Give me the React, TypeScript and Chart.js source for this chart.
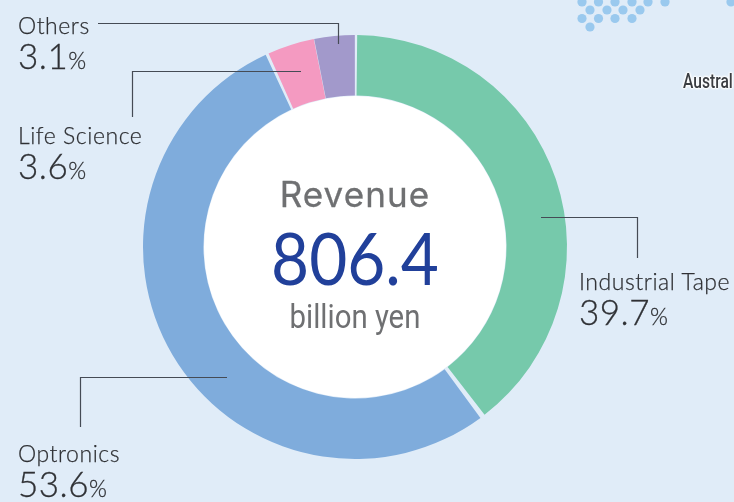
import React, { useEffect, useRef } from "react";
import { Chart, registerables } from "chart.js";

Chart.register(...registerables);

const categories = ["Industrial Tape", "Optronics", "Life Science", "Others"];
const shares = [39.7, 53.6, 3.6, 3.1];
const colors = ["#76C9AB", "#7FACDC", "#F49AC1", "#A299CB"];
const centerTitle = "Revenue";
const centerValue = "806.4";
const centerUnit = "billion yen";
const edgeLabel = "Austral";

const labelPositions = [
  { x: 579, y: 270 },
  { x: 18, y: 442 },
  { x: 18, y: 124 },
  { x: 18, y: 14 },
];

const leaders = [
  [[541, 217.5], [637.5, 217.5], [637.5, 258]],
  [[227, 377.5], [80.5, 377.5], [80.5, 427]],
  [[301, 71.5], [132.5, 71.5], [132.5, 117]],
  [[98, 23.5], [338.5, 23.5], [338.5, 44]],
];

const dots = [
  [582, 2], [598.5, 2], [615, 2], [632, 2], [648, 2], [665, 2], [731, 2],
  [590, 10], [607, 10], [623, 10], [640, 10],
  [582, 18.5], [598.5, 18.5], [615, 18.5], [632, 18.5],
  [590, 27],
];

const decorPlugin = {
  id: "decor",
  beforeDraw(chart: any) {
    const c = chart.ctx;
    c.save();
    c.fillStyle = "#9AC9EE";
    dots.forEach(([x, y]) => {
      c.beginPath();
      c.arc(x, y, 4.6, 0, Math.PI * 2);
      c.fill();
    });
    c.fillStyle = "#ffffff";
    c.beginPath();
    c.arc(355, 247, 151, 0, Math.PI * 2);
    c.fill();
    c.restore();
  },
  afterDraw(chart: any) {
    const c = chart.ctx;
    c.save();
    c.strokeStyle = "#454B55";
    c.lineWidth = 1.2;
    leaders.forEach((pts) => {
      c.beginPath();
      pts.forEach(([x, y], i) => (i ? c.lineTo(x, y) : c.moveTo(x, y)));
      c.stroke();
    });
    c.restore();
  },
};

export default function App() {
  const ref = useRef<HTMLCanvasElement>(null);
  useEffect(() => {
    const chart = new Chart(ref.current!, {
      type: "doughnut",
      data: {
        labels: categories,
        datasets: [
          {
            data: shares,
            backgroundColor: colors,
            borderWidth: 0,
            spacing: 3,
          },
        ],
      },
      options: {
        responsive: false,
        animation: false,
        cutout: 150,
        layout: { padding: { left: 143, right: 167, top: 35, bottom: 43 } },
        plugins: { legend: { display: false }, tooltip: { enabled: false } },
      },
      plugins: [decorPlugin],
    } as any);
    return () => chart.destroy();
  }, []);

  const base: React.CSSProperties = { position: "absolute", whiteSpace: "nowrap", lineHeight: 1 };
  return (
    <div style={{ position: "fixed", left: 0, top: 0, width: 734, height: 502, overflow: "hidden", background: "#E0ECF8" }}>
      <canvas ref={ref} width={734} height={502} style={{ position: "absolute", left: 0, top: 0 }} />
      {categories.map((name, i) => (
        <div key={name} style={{ ...base, left: labelPositions[i].x, top: labelPositions[i].y, fontFamily: "Lato", color: "#2f3135" }}>
          <div style={{ fontSize: 23, fontWeight: 300, letterSpacing: 0.55, WebkitTextStroke: "0.25px #2f3135" }}>{name}</div>
          <div style={{ fontSize: 35, fontWeight: 300, marginTop: 1, letterSpacing: 0.5, WebkitTextStroke: "0.3px #2f3135" }}>
            {shares[i].toFixed(1)}
            <span style={{ fontSize: 23 }}>%</span>
          </div>
        </div>
      ))}
      <div style={{ ...base, left: 255, width: 200, textAlign: "center", top: 177, fontFamily: "Inter", fontWeight: 400, fontSize: 35, color: "#6f7072", letterSpacing: 1.1, WebkitTextStroke: "0.3px #6f7072" }}>{centerTitle}</div>
      <div style={{ ...base, left: 255, width: 200, textAlign: "center", top: 222, fontFamily: "Lato", fontSize: 71, color: "#21409A", transform: "scaleX(0.925)" }}>{centerValue}</div>
      <div style={{ ...base, left: 255, width: 200, textAlign: "center", top: 300, fontFamily: "Roboto", fontWeight: 400, fontSize: 33, color: "#6f7072", transform: "scaleX(0.89)" }}>{centerUnit}</div>
      <div style={{ ...base, left: 683, top: 71, fontFamily: "Roboto", fontWeight: 500, fontSize: 20, color: "#3a3d42", transform: "scaleX(0.78)", transformOrigin: "left", textShadow: "0 0 2px #fff, 0 0 2px #fff, 0 0 2px #fff, 0 0 3px #fff, 0 0 3px #fff, 0 0 3px #fff" }}>{edgeLabel}</div>
    </div>
  );
}
